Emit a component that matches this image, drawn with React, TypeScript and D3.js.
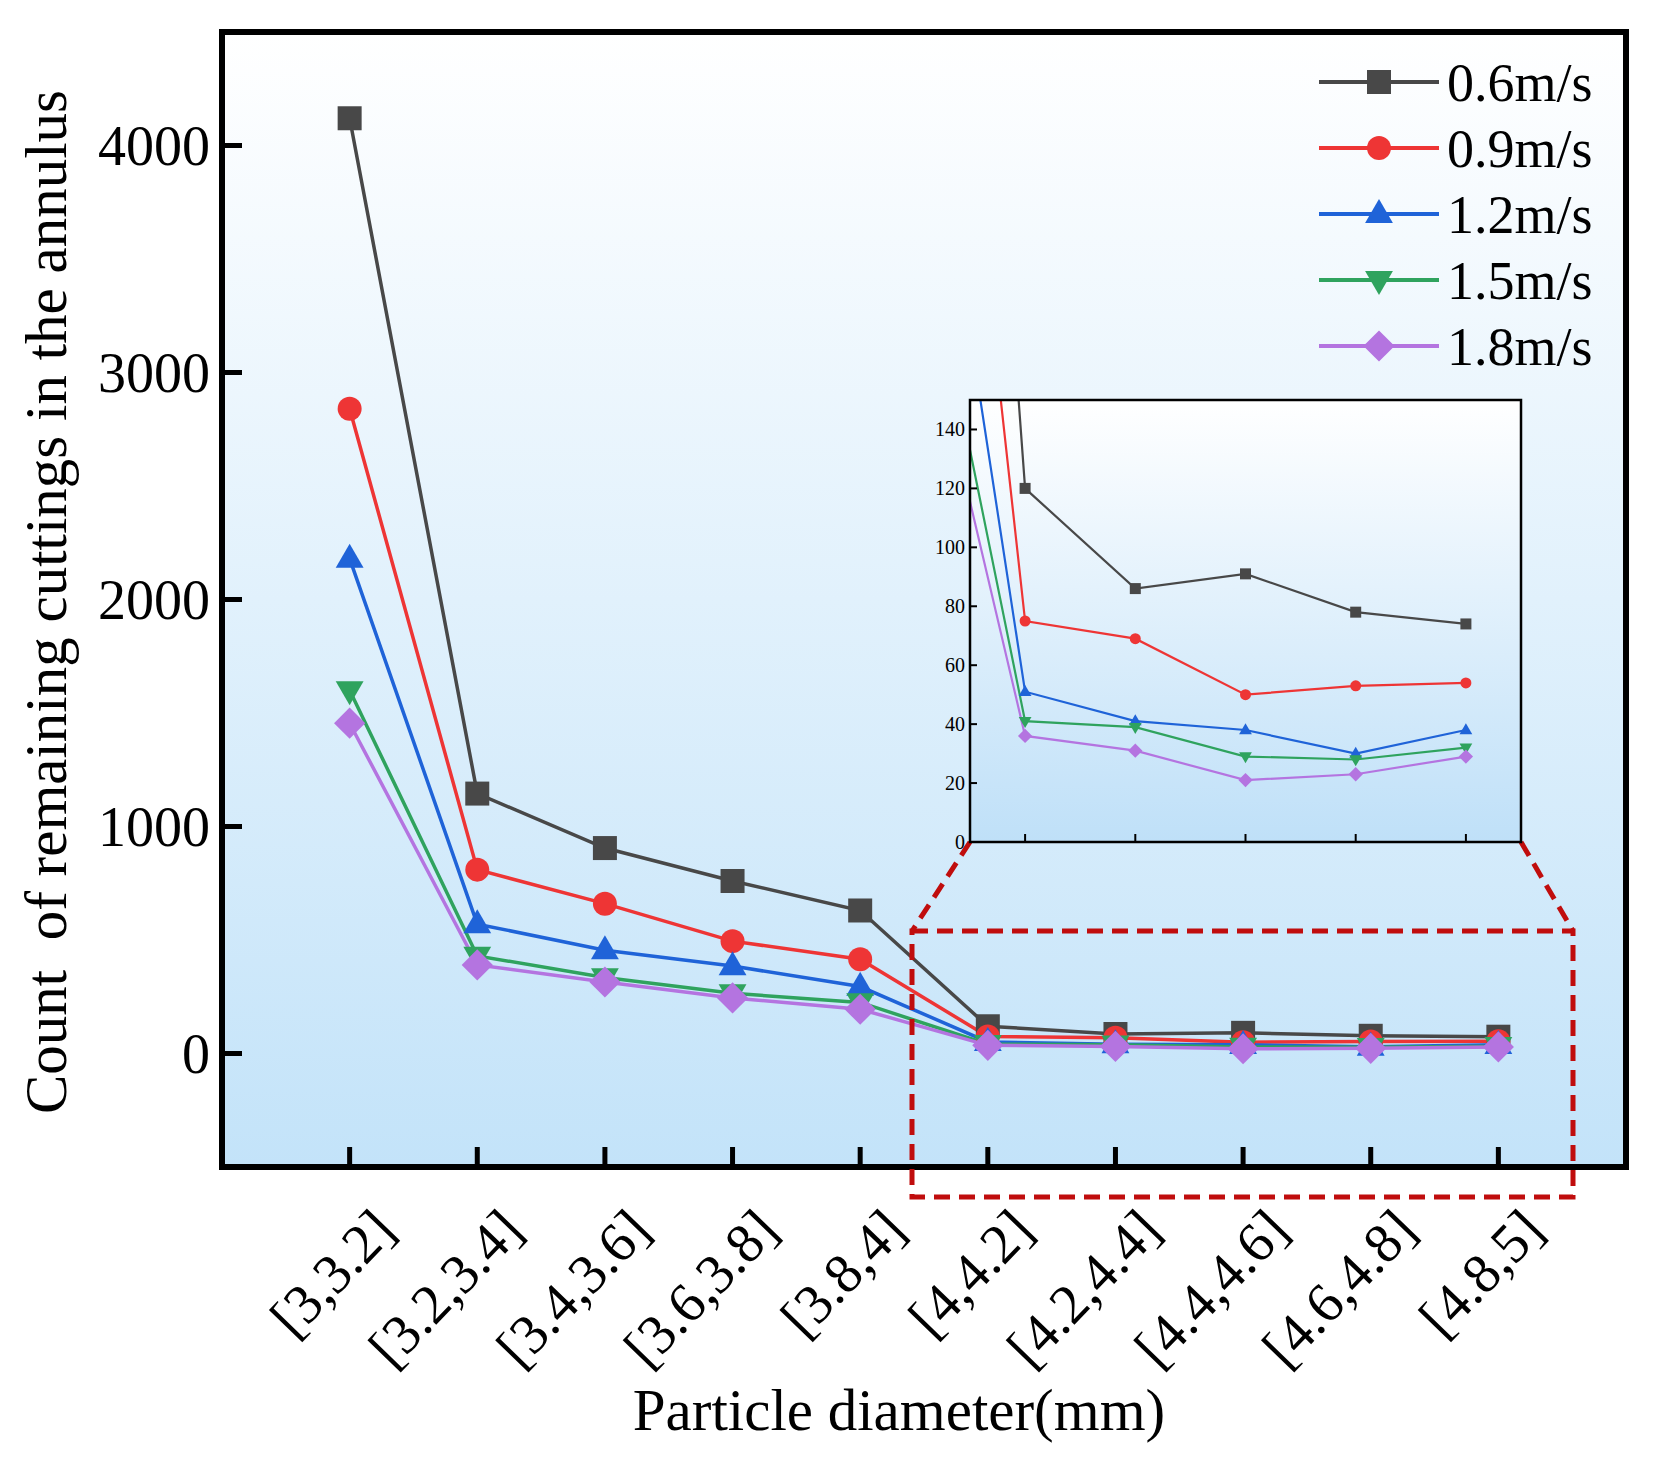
import { useEffect, useRef } from "react"
import * as d3 from "d3"

const categories = ["[3,3.2]", "[3.2,3.4]", "[3.4,3.6]", "[3.6,3.8]", "[3.8,4]", "[4,4.2]", "[4.2,4.4]", "[4.4,4.6]", "[4.6,4.8]", "[4.8,5]"]
const seriesNames = ["0.6m/s", "0.9m/s", "1.2m/s", "1.5m/s", "1.8m/s"]
const v06 = [4120, 1145, 905, 760, 630, 120, 86, 91, 78, 74]
const v09 = [2840, 810, 660, 495, 415, 75, 69, 50, 53, 54]
const v12 = [2180, 570, 455, 385, 295, 51, 41, 38, 30, 38]
const v15 = [1600, 430, 335, 265, 225, 41, 39, 29, 28, 32]
const v18 = [1455, 390, 315, 245, 195, 36, 31, 21, 23, 29]
const yTicks = [0, 1000, 2000, 3000, 4000]
const insetTicks = [0, 20, 40, 60, 80, 100, 120, 140]

const colores = ["#484848", "#ee3535", "#1f63d8", "#2fa35e", "#b474e0"]
const formas = ["square", "circle", "up", "down", "diamond"]
const FONT = "'Liberation Serif', 'Times New Roman', serif"

// forma del marcador, s = tamaño base en px
function marcador(tipo: string, s: number) {
  const h = s / 2
  if (tipo === "square") return `M${-h},${-h}h${s}v${s}h${-s}Z`
  if (tipo === "circle") return d3.symbol(d3.symbolCircle, Math.PI * h * h)()!
  if (tipo === "up") return `M0,${-s * 0.62}L${s * 0.58},${s * 0.38}L${-s * 0.58},${s * 0.38}Z`
  if (tipo === "down") return `M0,${s * 0.62}L${s * 0.58},${-s * 0.38}L${-s * 0.58},${-s * 0.38}Z`
  const r = s * 0.65
  return `M0,${-r}L${r},0L0,${r}L${-r},0Z`
}

export default function App() {
  const svgRef = useRef<SVGSVGElement>(null)

  useEffect(() => {
    if (!svgRef.current) return
    const svg = d3.select(svgRef.current)
    svg.selectAll("*").remove()

    const datos = [v06, v09, v12, v15, v18]
    const W = 1660
    const H = 1465
    const m = { left: 222, right: 1626, top: 32, bottom: 1167 }

    const x = d3.scaleLinear().domain([0, 11]).range([m.left, m.right])
    const y = d3.scaleLinear().domain([-500, 4500]).range([m.bottom, m.top])

    const defs = svg.append("defs")
    const grad = defs.append("linearGradient").attr("id", "fondo").attr("x1", 0).attr("y1", 0).attr("x2", 0).attr("y2", 1)
    grad.append("stop").attr("offset", "0%").attr("stop-color", "#ffffff")
    grad.append("stop").attr("offset", "100%").attr("stop-color", "#c3e3f9")
    const grad2 = defs.append("linearGradient").attr("id", "fondo2").attr("x1", 0).attr("y1", 0).attr("x2", 0).attr("y2", 1)
    grad2.append("stop").attr("offset", "0%").attr("stop-color", "#ffffff")
    grad2.append("stop").attr("offset", "100%").attr("stop-color", "#bfe0f8")

    svg.append("rect").attr("width", W).attr("height", H).attr("fill", "#ffffff")
    svg
      .append("rect")
      .attr("x", m.left)
      .attr("y", m.top)
      .attr("width", m.right - m.left)
      .attr("height", m.bottom - m.top)
      .attr("fill", "url(#fondo)")

    // Líneas principales
    const linea = d3
      .line<number>()
      .x((_, i) => x(i + 1))
      .y((d) => y(d))

    datos.forEach((serie, k) => {
      svg.append("path").datum(serie).attr("d", linea).attr("fill", "none").attr("stroke", colores[k]).attr("stroke-width", 3.5)
    })
    datos.forEach((serie, k) => {
      svg
        .selectAll(null)
        .data(serie)
        .enter()
        .append("path")
        .attr("d", marcador(formas[k], 24))
        .attr("transform", (d, i) => `translate(${x(i + 1)},${y(d)})`)
        .attr("fill", colores[k])
    })

    // Ticks hacia dentro
    const ejes = svg.append("g").attr("stroke", "#000").attr("stroke-width", 5)
    yTicks.forEach((t) => {
      ejes.append("line").attr("x1", m.left).attr("x2", m.left + 20).attr("y1", y(t)).attr("y2", y(t))
    })
    categories.forEach((_, i) => {
      ejes.append("line").attr("x1", x(i + 1)).attr("x2", x(i + 1)).attr("y1", m.bottom).attr("y2", m.bottom - 20)
    })

    svg
      .append("rect")
      .attr("x", m.left)
      .attr("y", m.top)
      .attr("width", m.right - m.left)
      .attr("height", m.bottom - m.top)
      .attr("fill", "none")
      .attr("stroke", "#000")
      .attr("stroke-width", 6)

    // Etiquetas de ejes
    yTicks.forEach((t) => {
      svg
        .append("text")
        .attr("x", m.left - 12)
        .attr("y", y(t))
        .attr("dy", "0.35em")
        .attr("text-anchor", "end")
        .style("font-family", FONT)
        .style("font-size", "56px")
        .text(t)
    })
    categories.forEach((c, i) => {
      svg
        .append("text")
        .attr("transform", `translate(${x(i + 1) + 34},${m.bottom + 52}) rotate(-46)`)
        .attr("text-anchor", "end")
        .attr("dy", "0.35em")
        .style("font-family", FONT)
        .style("font-size", "56px")
        .text(c)
    })
    svg
      .append("text")
      .attr("x", 899)
      .attr("y", 1430)
      .attr("text-anchor", "middle")
      .style("font-family", FONT)
      .style("font-size", "59px")
      .text("Particle diameter(mm)")
    svg
      .append("text")
      .attr("transform", `translate(66,602) rotate(-90)`)
      .attr("text-anchor", "middle")
      .style("font-family", FONT)
      .style("font-size", "59px")
      .style("white-space", "pre")
      .text("Count  of remaining cuttings in the annulus")

    // Recuadro rojo discontinuo
    const rojo = "#c00d0d"
    const zona = { x0: 912, y0: 931, x1: 1573, y1: 1197 }
    svg
      .append("rect")
      .attr("x", zona.x0)
      .attr("y", zona.y0)
      .attr("width", zona.x1 - zona.x0)
      .attr("height", zona.y1 - zona.y0)
      .attr("fill", "none")
      .attr("stroke", rojo)
      .attr("stroke-width", 5)
      .attr("stroke-dasharray", "16 9")

    // Gráfico ampliado
    const ins = { left: 970, right: 1521, top: 400, bottom: 842 }
    const xi = d3.scaleLinear().domain([5.5, 10.5]).range([ins.left, ins.right])
    const yi = d3.scaleLinear().domain([0, 150]).range([ins.bottom, ins.top])

    svg
      .append("line")
      .attr("x1", ins.left)
      .attr("y1", ins.bottom)
      .attr("x2", zona.x0)
      .attr("y2", zona.y0)
      .attr("stroke", rojo)
      .attr("stroke-width", 5)
      .attr("stroke-dasharray", "16 9")
    svg
      .append("line")
      .attr("x1", ins.right)
      .attr("y1", ins.bottom)
      .attr("x2", zona.x1)
      .attr("y2", zona.y0)
      .attr("stroke", rojo)
      .attr("stroke-width", 5)
      .attr("stroke-dasharray", "16 9")

    defs
      .append("clipPath")
      .attr("id", "recorte")
      .append("rect")
      .attr("x", ins.left)
      .attr("y", ins.top)
      .attr("width", ins.right - ins.left)
      .attr("height", ins.bottom - ins.top)

    svg
      .append("rect")
      .attr("x", ins.left)
      .attr("y", ins.top)
      .attr("width", ins.right - ins.left)
      .attr("height", ins.bottom - ins.top)
      .attr("fill", "url(#fondo2)")

    const gi = svg.append("g").attr("clip-path", "url(#recorte)")
    const lineaI = d3
      .line<number>()
      .x((_, i) => xi(i + 1))
      .y((d) => yi(d))
    datos.forEach((serie, k) => {
      gi.append("path").datum(serie).attr("d", lineaI).attr("fill", "none").attr("stroke", colores[k]).attr("stroke-width", 2.2)
    })
    datos.forEach((serie, k) => {
      gi.selectAll(null)
        .data(serie.map((v, i) => ({ v, i })).filter((d) => d.i >= 5))
        .enter()
        .append("path")
        .attr("d", marcador(formas[k], 11))
        .attr("transform", (d) => `translate(${xi(d.i + 1)},${yi(d.v)})`)
        .attr("fill", colores[k])
    })

    const ejesI = svg.append("g").attr("stroke", "#000").attr("stroke-width", 2)
    insetTicks.forEach((t) => {
      ejesI.append("line").attr("x1", ins.left).attr("x2", ins.left + 7).attr("y1", yi(t)).attr("y2", yi(t))
      svg
        .append("text")
        .attr("x", ins.left - 5)
        .attr("y", yi(t))
        .attr("dy", "0.35em")
        .attr("text-anchor", "end")
        .style("font-family", FONT)
        .style("font-size", "20px")
        .text(t)
    })
    d3.range(6, 11).forEach((c) => {
      ejesI.append("line").attr("x1", xi(c)).attr("x2", xi(c)).attr("y1", ins.bottom).attr("y2", ins.bottom - 8)
    })
    svg
      .append("rect")
      .attr("x", ins.left)
      .attr("y", ins.top)
      .attr("width", ins.right - ins.left)
      .attr("height", ins.bottom - ins.top)
      .attr("fill", "none")
      .attr("stroke", "#000")
      .attr("stroke-width", 2.5)

    // Leyenda
    const leyenda = svg.append("g").attr("transform", "translate(1319,82)")
    seriesNames.forEach((nombre, k) => {
      const fila = leyenda.append("g").attr("transform", `translate(0,${k * 66})`)
      fila.append("line").attr("x1", 0).attr("x2", 120).attr("stroke", colores[k]).attr("stroke-width", 4)
      fila.append("path").attr("d", marcador(formas[k], 24)).attr("transform", "translate(60,0)").attr("fill", colores[k])
      fila
        .append("text")
        .attr("x", 128)
        .attr("dy", "0.35em")
        .style("font-family", FONT)
        .style("font-size", "54px")
        .text(nombre)
    })
  }, [])

  return (
    <svg
      ref={svgRef}
      width={1660}
      height={1465}
      viewBox="0 0 1660 1465"
      style={{ position: "absolute", left: 0, top: 0 }}
    />
  )
}
